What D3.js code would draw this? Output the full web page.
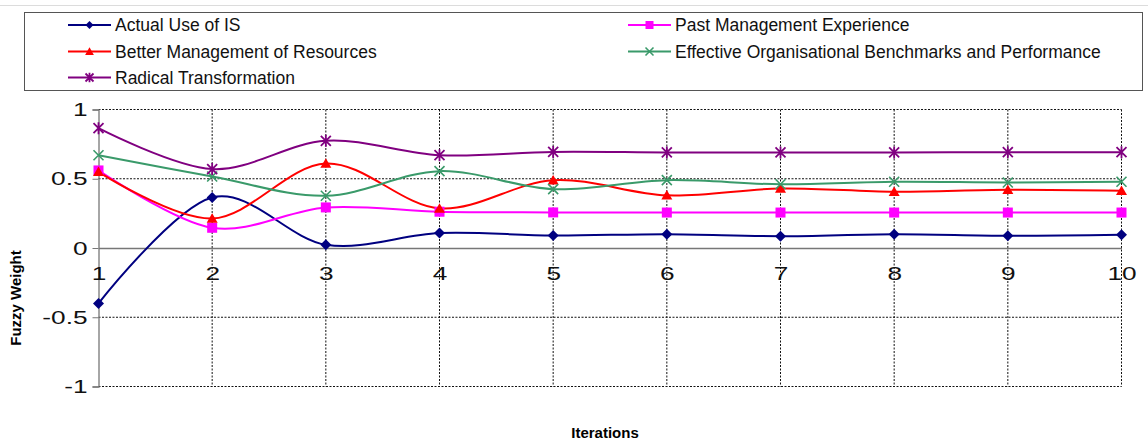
<!DOCTYPE html>
<html>
<head>
<meta charset="utf-8">
<script src="https://cdn.jsdelivr.net/npm/d3@7"></script>
<style>
  html, body { margin: 0; padding: 0; background: #fff; }
  svg { display: block; font-family: "Liberation Sans", Arial, sans-serif; }
</style>
</head>
<body>
<svg id="chart" width="1148" height="445"></svg>
<script>
// Iteration numbers along the x axis
const iterations = [1, 2, 3, 4, 5, 6, 7, 8, 9, 10];

// Fuzzy weight of each concept per iteration
const actualUseOfIS       = [-0.40, 0.365, 0.024, 0.108, 0.090, 0.100, 0.085, 0.100, 0.089, 0.096];
const pastManagementExp   = [0.560, 0.146, 0.293, 0.262, 0.257, 0.256, 0.256, 0.256, 0.256, 0.256];
const betterManagement    = [0.550, 0.213, 0.610, 0.286, 0.490, 0.380, 0.430, 0.406, 0.420, 0.413];
const effectiveBenchmarks = [0.670, 0.516, 0.377, 0.555, 0.425, 0.490, 0.460, 0.478, 0.473, 0.478];
const radicalTransform    = [0.865, 0.570, 0.774, 0.670, 0.694, 0.690, 0.690, 0.690, 0.692, 0.692];

const seriesNames = [
  "Actual Use of IS",
  "Past Management Experience",
  "Better Management of Resources",
  "Effective Organisational Benchmarks and Performance",
  "Radical Transformation"
];
const seriesValues = [actualUseOfIS, pastManagementExp, betterManagement, effectiveBenchmarks, radicalTransform];
const seriesColors = ["#000080", "#FF00FF", "#FF0000", "#3A9A6A", "#800080"];
const seriesMarkers = ["diamond", "square", "triangle", "x", "star"];

const yTicks = [-1, -0.5, 0, 0.5, 1];
const yTickLabels = ["-1", "-0.5", "0", "0.5", "1"];

const svg = d3.select("#chart");

const x = d3.scaleLinear().domain([1, 10]).range([98.5, 1121.5]);
const y = d3.scaleLinear().domain([-1, 1]).range([386.5, 109.5]);

// tick labels use a wide numeral face: stretch horizontally
const stretch = 1.38;

// thin rule along the top of the page
svg.append("line").attr("x1", 0).attr("x2", 1148).attr("y1", 5.5).attr("y2", 5.5)
  .attr("stroke", "#dcdcdc").attr("stroke-width", 1);

// dotted grid
const grid = svg.append("g");
grid.selectAll("line.h").data(yTicks.filter(d => d !== 0)).join("line")
  .attr("x1", x(1)).attr("x2", x(10))
  .attr("y1", d => y(d)).attr("y2", d => y(d))
  .attr("stroke", "#111").attr("stroke-width", 1).attr("stroke-dasharray", "2,1.5");
grid.selectAll("line.v").data(iterations.slice(1)).join("line")
  .attr("x1", d => x(d)).attr("x2", d => x(d))
  .attr("y1", y(1)).attr("y2", y(-1))
  .attr("stroke", "#111").attr("stroke-width", 1).attr("stroke-dasharray", "2,1.5");

// y axis
const yAxis = svg.append("g").attr("transform", `translate(${x(1)},0)`)
  .call(d3.axisLeft(y).tickValues(yTicks).tickSize(6).tickPadding(6)
    .tickFormat((d, i) => yTickLabels[i]));
yAxis.select(".domain").attr("stroke", "#777").attr("stroke-width", 1.3);
yAxis.selectAll(".tick line").attr("stroke", "#777");
yAxis.selectAll(".tick text").attr("font-size", 19).attr("fill", "#111")
  .attr("font-family", "'Liberation Sans', Arial, sans-serif")
  .attr("x", -11 / stretch)
  .attr("transform", `scale(${stretch},1)`);

// x axis along zero
const xAxis = svg.append("g").attr("transform", `translate(0,${y(0)})`)
  .call(d3.axisBottom(x).tickValues(iterations).tickSize(0).tickPadding(19)
    .tickFormat(d3.format("d")));
xAxis.select(".domain").attr("stroke", "#777").attr("stroke-width", 1.3);
xAxis.selectAll(".tick text").attr("font-size", 19).attr("fill", "#111")
  .attr("font-family", "'Liberation Sans', Arial, sans-serif")
  .attr("transform", `scale(${stretch},1)`);

// axis titles
svg.append("text").attr("x", 605).attr("y", 438).attr("text-anchor", "middle")
  .attr("font-size", 15).attr("font-weight", "bold").text("Iterations");
svg.append("text").attr("transform", "translate(21,298) rotate(-90)")
  .attr("text-anchor", "middle").attr("font-size", 15).attr("font-weight", "bold")
  .text("Fuzzy Weight");

// marker drawing
function drawMarker(g, type, color, s) {
  if (type === "diamond") {
    g.append("path").attr("d", `M0,${-s}L${s},0L0,${s}L${-s},0Z`).attr("fill", color);
  } else if (type === "square") {
    g.append("rect").attr("x", -s).attr("y", -s).attr("width", 2 * s).attr("height", 2 * s).attr("fill", color);
  } else if (type === "triangle") {
    g.append("path").attr("d", `M0,${-s * 1.05}L${s * 1.1},${s * 0.85}L${-s * 1.1},${s * 0.85}Z`).attr("fill", color);
  } else if (type === "x") {
    g.append("path").attr("d", `M${-s},${-s}L${s},${s}M${-s},${s}L${s},${-s}`)
      .attr("stroke", color).attr("stroke-width", 1.6).attr("fill", "none");
  } else if (type === "star") {
    g.append("path").attr("d", `M${-s},${-s}L${s},${s}M${-s},${s}L${s},${-s}M0,${-s * 1.2}L0,${s * 1.2}`)
      .attr("stroke", color).attr("stroke-width", 1.8).attr("fill", "none");
  }
}

const line = d3.line()
  .x((d, i) => x(iterations[i]))
  .y(d => y(d))
  .curve(d3.curveCardinal.tension(0));

seriesValues.forEach((vals, k) => {
  svg.append("path").datum(vals).attr("d", line)
    .attr("fill", "none").attr("stroke", seriesColors[k]).attr("stroke-width", 2);
});
seriesValues.forEach((vals, k) => {
  vals.forEach((v, i) => {
    const g = svg.append("g").attr("transform", `translate(${x(iterations[i])},${y(v)})`);
    drawMarker(g, seriesMarkers[k], seriesColors[k], seriesMarkers[k] === "diamond" ? 5.5 : 5);
  });
});

// legend
const legend = svg.append("g");
legend.append("rect").attr("x", 24.5).attr("y", 12.5).attr("width", 1118).attr("height", 78)
  .attr("fill", "#fff").attr("stroke", "#555").attr("stroke-width", 1);
const legendCols = [68, 628];
const legendRows = [25, 51.5, 77.5];
seriesNames.forEach((name, k) => {
  const cx = legendCols[k % 2];
  const cy = legendRows[Math.floor(k / 2)];
  const g = legend.append("g").attr("transform", `translate(${cx},${cy})`);
  g.append("line").attr("x1", 0).attr("x2", 43).attr("stroke", seriesColors[k]).attr("stroke-width", 2);
  drawMarker(g.append("g").attr("transform", "translate(21.5,0)"), seriesMarkers[k], seriesColors[k], 4);
  g.append("text").attr("x", 47).attr("y", 0).attr("dy", "0.35em")
    .attr("font-size", 17.5).attr("fill", "#111").text(name);
});
</script>
</body>
</html>
